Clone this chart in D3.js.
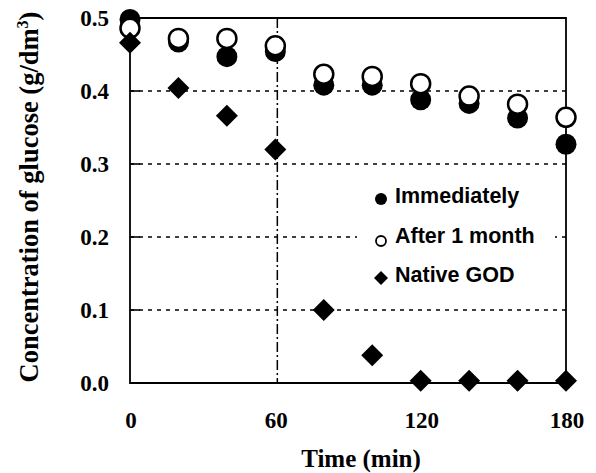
<!DOCTYPE html>
<html><head><meta charset="utf-8">
<script src="https://cdn.jsdelivr.net/npm/d3@7"></script>
<style>html,body{margin:0;padding:0;background:#fff;}svg{display:block;}</style>
</head><body>
<svg id="c" width="596" height="473"></svg>
<script>
const times = [0, 20, 40, 60, 80, 100, 120, 140, 160, 180];
const immediately = [0.498, 0.467, 0.447, 0.454, 0.408, 0.408, 0.388, 0.383, 0.363, 0.327];
const afterMonth = [0.486, 0.472, 0.472, 0.462, 0.423, 0.420, 0.410, 0.393, 0.382, 0.364];
const nativeGOD = [0.466, 0.404, 0.366, 0.320, 0.100, 0.038, 0.003, 0.003, 0.003, 0.003];
const xTicks = [0, 60, 120, 180];
const yTicks = [0.0, 0.1, 0.2, 0.3, 0.4, 0.5];
const gridValues = [0.1, 0.2, 0.3, 0.4];
const legendLabels = ["Immediately", "After 1 month", "Native GOD"];

const svg = d3.select("#c");
const x = d3.scaleLinear().domain([0, 180]).range([130, 566]);
const y = d3.scaleLinear().domain([0, 0.5]).range([383, 18]);
const serif = "'Liberation Serif','Times New Roman',serif";
const sans = "'Liberation Sans',Arial,Helvetica,sans-serif";

// gridlines
svg.append("g").selectAll("line").data(gridValues).join("line")
  .attr("x1", x(0)).attr("x2", x(180))
  .attr("y1", d => y(d)).attr("y2", d => y(d))
  .attr("stroke", "#000").attr("stroke-width", 1.6)
  .attr("stroke-dasharray", "4,5");
// inward ticks on y axis
svg.append("g").selectAll("line").data(gridValues).join("line")
  .attr("x1", x(0)).attr("x2", x(0) + 10)
  .attr("y1", d => y(d)).attr("y2", d => y(d))
  .attr("stroke", "#000").attr("stroke-width", 1.6);
// vertical dash-dot at 60
svg.append("line").attr("x1", x(60) + 2).attr("x2", x(60) + 2)
  .attr("y1", y(0.5)).attr("y2", y(0))
  .attr("stroke", "#000").attr("stroke-width", 1.5)
  .attr("stroke-dasharray", "10,3,2,3");

// frame
svg.append("path")
  .attr("d", `M${x(0)},${y(0.5)} L${x(180)},${y(0.5)} L${x(180)},${y(0)} L${x(0)},${y(0)} Z`)
  .attr("fill", "none").attr("stroke", "#000").attr("stroke-width", 1.8);

// tick labels
svg.append("g").selectAll("text").data(yTicks).join("text")
  .attr("x", 109).attr("y", d => y(d) + 8)
  .attr("text-anchor", "end")
  .style("font-family", serif).style("font-weight", "bold").style("font-size", "23px")
  .text(d => d.toFixed(1));
svg.append("g").selectAll("text").data(xTicks).join("text")
  .attr("x", d => x(d) + 1).attr("y", 428)
  .attr("text-anchor", "middle")
  .style("font-family", serif).style("font-weight", "bold").style("font-size", "23px")
  .text(d => d);

// axis titles
svg.append("text").attr("x", 361).attr("y", 467).attr("text-anchor", "middle")
  .style("font-family", serif).style("font-weight", "bold").style("font-size", "25px")
  .text("Time (min)");
const yt = svg.append("text")
  .attr("transform", "translate(38,197) rotate(-90)")
  .attr("text-anchor", "middle")
  .style("font-family", serif).style("font-weight", "bold").style("font-size", "26.5px");
yt.append("tspan").text("Concentration of glucose (g/dm");
yt.append("tspan").attr("dy", -10).style("font-size", "16px").text("3");
yt.append("tspan").attr("dy", 10).text(")");

// data markers
const diamond = (cx, cy, r) => `M${cx},${cy - r} L${cx + r},${cy} L${cx},${cy + r} L${cx - r},${cy} Z`;
svg.append("g").selectAll("circle").data(times).join("circle")
  .attr("cx", (d) => x(d)).attr("cy", (d, i) => y(immediately[i])).attr("r", 10.5)
  .attr("fill", "#000");
svg.append("g").selectAll("circle").data(times).join("circle")
  .attr("cx", (d) => x(d)).attr("cy", (d, i) => y(afterMonth[i])).attr("r", 9.5)
  .attr("fill", "#fff").attr("stroke", "#000").attr("stroke-width", 2.5);
svg.append("g").selectAll("path").data(times).join("path")
  .attr("d", (d, i) => diamond(x(d), y(nativeGOD[i]), 11))
  .attr("fill", "#000");

// legend
const lg = svg.append("g");
lg.append("rect").attr("x", 357).attr("y", 182).attr("width", 198).attr("height", 110).attr("fill", "#fff");
const rows = [203, 243, 282];
lg.append("circle").attr("cx", 381).attr("cy", rows[0] - 4).attr("r", 6).attr("fill", "#000");
lg.append("circle").attr("cx", 381).attr("cy", rows[1] - 2).attr("r", 5).attr("fill", "#fff").attr("stroke", "#000").attr("stroke-width", 1.8);
lg.append("path").attr("d", diamond(381, rows[2] - 4, 7)).attr("fill", "#000");
lg.selectAll("text").data(legendLabels).join("text")
  .attr("x", 395).attr("y", (d, i) => rows[i])
  .style("font-family", sans).style("font-weight", "bold").style("font-size", "21.5px")
  .text(d => d);
</script>
</body></html>
